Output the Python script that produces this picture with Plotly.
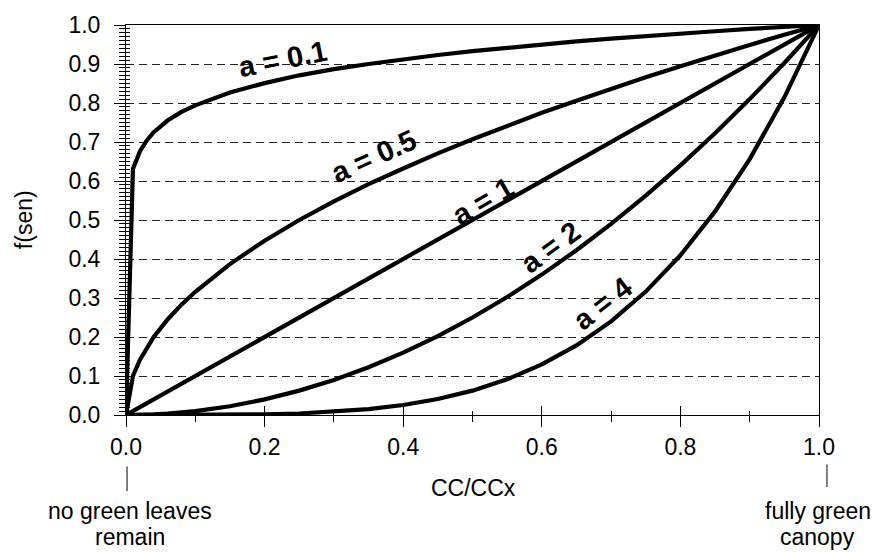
import plotly.graph_objects as go

# CC/CCx values (x) and f(sen) for each shape factor a
cc_ratio = [0, 0.01, 0.02, 0.03, 0.04, 0.06, 0.08, 0.1, 0.15, 0.2, 0.25, 0.3, 0.35, 0.4, 0.45,
            0.5, 0.55, 0.6, 0.65, 0.7, 0.75, 0.8, 0.85, 0.9, 0.95, 1.0]
f_a01 = [0, 0.631, 0.676, 0.704, 0.725, 0.755, 0.777, 0.794, 0.827, 0.851, 0.871, 0.887, 0.900,
         0.912, 0.923, 0.933, 0.942, 0.950, 0.958, 0.965, 0.972, 0.978, 0.984, 0.990, 0.995, 1.0]
f_a05 = [0, 0.100, 0.141, 0.173, 0.200, 0.245, 0.283, 0.316, 0.387, 0.447, 0.500, 0.548, 0.592,
         0.632, 0.671, 0.707, 0.742, 0.775, 0.806, 0.837, 0.866, 0.894, 0.922, 0.949, 0.975, 1.0]
f_a1 = [0, 0.01, 0.02, 0.03, 0.04, 0.06, 0.08, 0.1, 0.15, 0.2, 0.25, 0.3, 0.35, 0.4, 0.45,
        0.5, 0.55, 0.6, 0.65, 0.7, 0.75, 0.8, 0.85, 0.9, 0.95, 1.0]
f_a2 = [0, 0.0001, 0.0004, 0.0009, 0.0016, 0.0036, 0.0064, 0.01, 0.0225, 0.04, 0.0625, 0.09,
        0.1225, 0.16, 0.2025, 0.25, 0.3025, 0.36, 0.4225, 0.49, 0.5625, 0.64, 0.7225, 0.81,
        0.9025, 1.0]
f_a4 = [0, 0, 0, 0, 0, 0, 0, 0.0001, 0.0005, 0.0016, 0.0039, 0.0081, 0.0150, 0.0256, 0.0410,
        0.0625, 0.0915, 0.1296, 0.1785, 0.2401, 0.3164, 0.4096, 0.5220, 0.6561, 0.8145, 1.0]

curve_labels = ["a = 0.1", "a = 0.5", "a = 1", "a = 2", "a = 4"]
label_x = [0.226, 0.358, 0.515, 0.613, 0.687]
label_y = [0.912, 0.664, 0.55, 0.43, 0.285]
label_angle = [11, 24, 30, 36, 38]

FONT = "Liberation Sans, Arial, Helvetica, sans-serif"

fig = go.Figure()
series = [f_a01, f_a05, f_a1, f_a2]
for ys in series:
    fig.add_trace(go.Scatter(x=cc_ratio, y=ys, mode="lines",
                             line=dict(color="black", width=4.2), showlegend=False,
                             hoverinfo="skip"))
# last curve on the overlaid axes (used for the inward half of crossing ticks)
fig.add_trace(go.Scatter(x=cc_ratio, y=f_a4, mode="lines", xaxis="x2", yaxis="y2",
                         line=dict(color="black", width=4.2), showlegend=False,
                         hoverinfo="skip"))

for t, lx, ly, ang in zip(curve_labels, label_x, label_y, label_angle):
    fig.add_annotation(x=lx, y=ly, text="<b>" + t + "</b>", showarrow=False,
                       textangle=-ang, font=dict(family=FONT, size=29, color="black"),
                       xanchor="center", yanchor="middle")

# axis titles
fig.add_annotation(xref="paper", yref="paper", x=0.502, y=-0.187, text="CC/CCx",
                   showarrow=False, font=dict(family=FONT, size=23, color="black"),
                   xanchor="center", yanchor="middle")
fig.add_annotation(xref="paper", yref="paper", x=-0.147, y=0.5, text="f(sen)",
                   showarrow=False, textangle=-90,
                   font=dict(family=FONT, size=23, color="black"),
                   xanchor="center", yanchor="middle")

# end descriptions
end_text = [("no green leaves", "remain", 0.006), ("fully green", "canopy", 0.998)]
for l1, l2, px in end_text:
    fig.add_annotation(xref="paper", yref="paper", x=px, y=-0.247, text=l1,
                       showarrow=False, font=dict(family=FONT, size=23, color="black"),
                       xanchor="center", yanchor="middle")
    fig.add_annotation(xref="paper", yref="paper", x=px, y=-0.312, text=l2,
                       showarrow=False, font=dict(family=FONT, size=23, color="black"),
                       xanchor="center", yanchor="middle")
fig.add_shape(type="line", xref="paper", yref="paper", x0=0.0015, x1=0.0015,
              y0=-0.132, y1=-0.195, line=dict(color="black", width=1))
fig.add_shape(type="line", xref="paper", yref="paper", x0=1.0115, x1=1.0115,
              y0=-0.127, y1=-0.185, line=dict(color="black", width=1))

fig.update_layout(
    width=876, height=552,
    margin=dict(l=126, r=57, t=20, b=137),
    paper_bgcolor="white", plot_bgcolor="white",
    font=dict(family=FONT, size=23, color="black"),
    xaxis=dict(range=[0, 1], tickmode="linear", tick0=0, dtick=0.2, tickformat=".1f",
               showline=True, linecolor="black", linewidth=1, mirror=True,
               ticks="outside", ticklen=11, tickcolor="black", tickwidth=1,
               minor=dict(ticks="outside", ticklen=6, dtick=0.1, tickcolor="black",
                          showgrid=False),
               showgrid=False, zeroline=False, ticklabelstandoff=0),
    yaxis=dict(range=[0, 1], tickmode="linear", tick0=0, dtick=0.1, tickformat=".1f",
               showline=True, linecolor="black", linewidth=1, mirror=True,
               ticks="outside", ticklen=11, tickcolor="black", tickwidth=1,
               minor=dict(ticks="outside", ticklen=6, dtick=0.01, tickcolor="black",
                          showgrid=False),
               showgrid=True, gridcolor="#222", gridwidth=1, griddash="8px,5px",
               zeroline=False, ticklabelstandoff=9),
    xaxis2=dict(range=[0, 1], overlaying="x", side="bottom", anchor="y2",
                tickmode="linear", tick0=0, dtick=0.2, showticklabels=False,
                ticks="inside", ticklen=9, tickcolor="black", tickwidth=1,
                minor=dict(ticks="inside", ticklen=4, dtick=0.1, tickcolor="black"),
                showline=False, showgrid=False, zeroline=False),
    yaxis2=dict(range=[0, 1], overlaying="y", side="left", anchor="x2",
                tickmode="linear", tick0=0, dtick=0.1, showticklabels=False,
                ticks="inside", ticklen=4, tickcolor="black", tickwidth=1,
                minor=dict(ticks="inside", ticklen=4, dtick=0.01, tickcolor="black"),
                showline=False, showgrid=False, zeroline=False),
)

fig.write_html("out.html")
